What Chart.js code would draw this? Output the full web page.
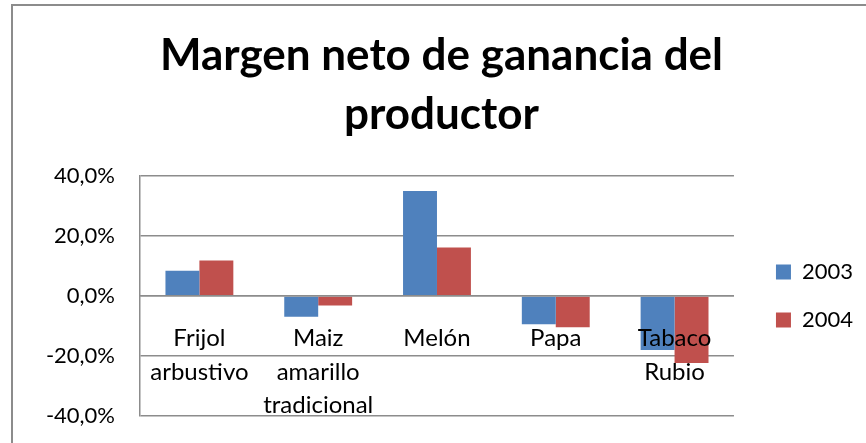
<!DOCTYPE html>
<html>
<head>
<meta charset="utf-8">
<script src="https://cdn.jsdelivr.net/npm/chart.js@4.4.1/dist/chart.umd.min.js"></script>
<style>
  html, body { margin: 0; padding: 0; background: #ffffff; }
  #wrap { position: relative; width: 866px; height: 443px; overflow: hidden; }
  #frame { position: absolute; left: 11px; top: 4px; width: 900px; height: 500px;
           border-left: 2px solid #8c8c8c; border-top: 2px solid #8c8c8c; pointer-events: none; }
  canvas { position: absolute; left: 0; top: 0; }
</style>
</head>
<body>
<div id="wrap">
  <canvas id="c" width="866" height="443"></canvas>
  <div id="frame"></div>
</div>
<script>
const titleLines = ['Margen neto de ganancia del', 'productor'];
const categories = [['Frijol', 'arbustivo'], ['Maiz', 'amarillo', 'tradicional'], 'Melón', 'Papa', ['Tabaco', 'Rubio']];
const seriesNames = ['2003', '2004'];
const values2003 = [8.4, -6.9, 35.0, -9.4, -18.0];
const values2004 = [11.8, -3.2, 16.2, -10.4, -22.3];
const yMin = -40, yMax = 40, yStep = 20;

const gridColor = '#8c8c8c';

new Chart(document.getElementById('c'), {
  type: 'bar',
  data: {
    labels: categories,
    datasets: [
      { label: seriesNames[0], data: values2003, backgroundColor: '#4F81BD', borderWidth: 0 },
      { label: seriesNames[1], data: values2004, backgroundColor: '#C0504D', borderWidth: 0 }
    ]
  },
  options: {
    responsive: false,
    devicePixelRatio: 1,
    animation: false,
    layout: { padding: { left: 20, right: 3, top: 0, bottom: 27 } },
    datasets: { bar: { categoryPercentage: 2 / 3.5, barPercentage: 1 } },
    plugins: {
      tooltip: { enabled: false },
      title: {
        display: true,
        text: titleLines,
        color: '#000000',
        font: { family: 'Lato', weight: 'bold', size: 44, lineHeight: '59px' },
        padding: { top: 26, bottom: 32 }
      },
      legend: {
        position: 'right',
        align: 'center',
        fullSize: false,
        labels: {
          color: '#000000',
          font: { family: 'Lato', size: 22 },
          boxWidth: 15,
          boxHeight: 15,
          padding: 26
        }
      }
    },
    scales: {
      x: {
        position: { y: 0 },
        grid: { display: false, drawTicks: false },
        border: { display: true, color: gridColor, width: 1.5, z: 1 },
        ticks: {
          z: 1,
          autoSkip: false, maxRotation: 0, minRotation: 0,
          padding: 26,
          color: '#000000',
          font: { family: 'Lato', size: 24, lineHeight: '33.5px' }
        }
      },
      y: {
        position: 'left',
        min: yMin, max: yMax,
        afterFit: s => { s.width = 120; },
        grid: { color: gridColor, lineWidth: 1.5, drawTicks: true, tickLength: 25, tickColor: 'rgba(0,0,0,0)' },
        border: { display: true, color: gridColor, width: 1.5 },
        ticks: {
          stepSize: yStep,
          padding: 0,
          color: '#000000',
          font: { family: 'Lato', size: 22 },
          callback: v => v.toFixed(1).replace('.', ',') + '%'
        }
      },
      spacer: {
        type: 'linear',
        position: 'right',
        afterFit: s => { s.width = 16; },
        grid: { display: false, drawTicks: false },
        border: { display: false },
        ticks: { display: false }
      }
    }
  }
});
</script>
</body>
</html>
